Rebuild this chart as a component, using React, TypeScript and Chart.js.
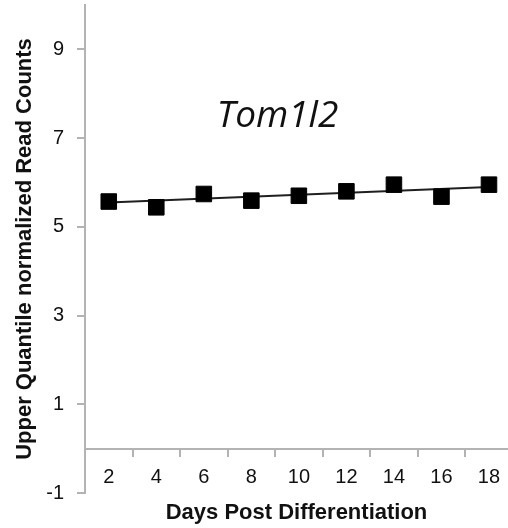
import { useEffect, useRef } from 'react';
import { Chart, registerables } from 'chart.js';

Chart.register(...registerables);

// ---- data ----
const days = [2, 4, 6, 8, 10, 12, 14, 16, 18];
const readCounts = [5.57, 5.44, 5.74, 5.59, 5.7, 5.8, 5.95, 5.68, 5.95];
const trendDays = [2, 18];
const trendValues = [5.55, 5.9];
const yTickValues = [-1, 1, 3, 5, 7, 9];
const xBoundaryTicks = [3, 5, 7, 9, 11, 13, 15, 17];
const geneName = 'Tom1l2';
const xTitle = 'Days Post Differentiation';
const yTitle = 'Upper Quantile normalized Read Counts';

const FONT = '"Liberation Sans", Arial, sans-serif';
const AXIS_GRAY = '#b3b3b3';
const TEXT = '#111';

const geneLabel = {
  id: 'geneLabel',
  afterDatasetsDraw(chart: any) {
    const { ctx, scales } = chart;
    ctx.save();
    ctx.font = 'italic 37px "Open Sans", sans-serif';
    ctx.fillStyle = '#111';
    ctx.textAlign = 'center';
    ctx.textBaseline = 'middle';
    ctx.fillText(geneName, scales.x.getPixelForValue(9.1), scales.y.getPixelForValue(7.48));
    ctx.restore();
  },
};

export default function App() {
  const canvasRef = useRef<HTMLCanvasElement | null>(null);

  useEffect(() => {
    document.body.style.margin = '0';
    document.body.style.overflow = 'hidden';
    const canvas = canvasRef.current;
    if (!canvas) return;
    const chart = new Chart(canvas, {
      type: 'line',
      data: {
        datasets: [
          {
            label: 'counts',
            data: days.map((d, i) => ({ x: d, y: readCounts[i] })),
            showLine: false,
            pointStyle: 'rect',
            pointRadius: 11,
            pointHoverRadius: 11,
            backgroundColor: '#000',
            borderColor: '#000',
            borderWidth: 1,
            order: 0,
          },
          {
            label: 'trend',
            data: trendDays.map((d, i) => ({ x: d, y: trendValues[i] })),
            borderColor: '#1f1f1f',
            borderWidth: 2,
            pointRadius: 0,
            fill: false,
            order: 1,
          },
        ],
      },
      options: {
        animation: false,
        responsive: true,
        maintainAspectRatio: false,
        layout: { autoPadding: false, padding: { top: 5, right: 0, bottom: 35, left: 0 } },
        plugins: {
          legend: { display: false },
          tooltip: { enabled: false },
        },
        scales: {
          x: {
            type: 'linear',
            min: 1,
            max: 18.8,
            position: { y: 0 } as any,
            border: { color: AXIS_GRAY, width: 2 },
            grid: {
              drawOnChartArea: false,
              drawTicks: true,
              tickLength: 7,
              lineWidth: 2,
              color: (ctx: any) =>
                ctx.tick && xBoundaryTicks.includes(ctx.tick.value) ? AXIS_GRAY : 'rgba(0,0,0,0)',
            },
            afterBuildTicks: (s: any) => {
              s.ticks = [...days, ...xBoundaryTicks].sort((a, b) => a - b).map((v) => ({ value: v }));
            },
            afterFit: (s: any) => {
              s.paddingLeft = 0;
              s.paddingRight = 0;
            },
            ticks: {
              autoSkip: false,
              maxRotation: 0,
              padding: 10,
              color: TEXT,
              font: { family: FONT, size: 20 },
              callback: (v: any) => (days.includes(Number(v)) ? String(v) : ''),
            },
            title: {
              display: true,
              text: xTitle,
              color: '#111',
              font: { family: FONT, size: 22, weight: 'bold' },
              padding: { top: 0, bottom: 4 },
            },
          },
          y: {
            type: 'linear',
            min: -1,
            max: 10,
            position: 'left',
            border: { color: AXIS_GRAY, width: 2 },
            grid: {
              drawOnChartArea: false,
              drawTicks: true,
              tickLength: 8,
              lineWidth: 2,
              color: AXIS_GRAY,
            },
            afterBuildTicks: (s: any) => {
              s.ticks = yTickValues.map((v) => ({ value: v }));
            },
            afterFit: (s: any) => {
              s.width = 85;
              s.paddingTop = 0;
              s.paddingBottom = 0;
            },
            ticks: {
              padding: 13,
              color: TEXT,
              font: { family: FONT, size: 20 },
            },
            title: {
              display: true,
              text: yTitle,
              color: '#111',
              font: { family: FONT, size: 22, weight: 'bold' },
              padding: { top: 12, bottom: 0 },
            },
          },
        },
      },
      plugins: [geneLabel],
    });
    return () => chart.destroy();
  }, []);

  return (
    <div style={{ position: 'absolute', left: 0, top: 0, width: 508, height: 528, overflow: 'hidden' }}>
      <canvas ref={canvasRef} style={{ display: 'block' }} />
    </div>
  );
}
